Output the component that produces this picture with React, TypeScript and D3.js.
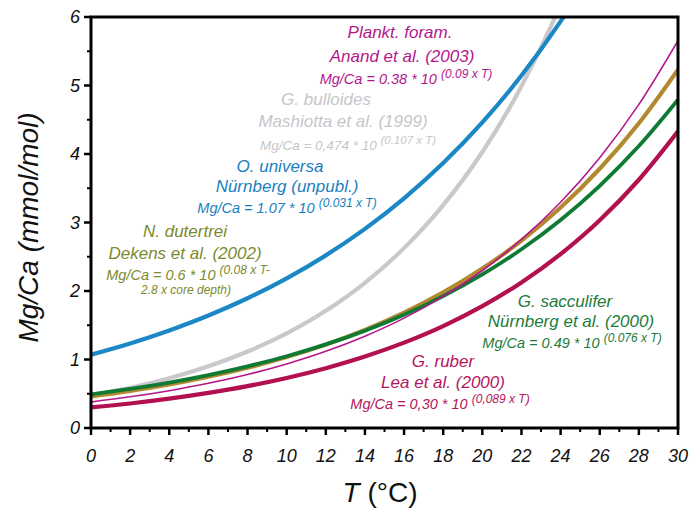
import React from "react";
import * as d3 from "d3";

const temps = [0, 2, 4, 6, 8, 10, 12, 14, 16, 18, 20, 22, 24, 26, 28, 30];

// Mg/Ca (mmol/mol) read at each temperature
const universa = [1.07, 1.234, 1.424, 1.642, 1.894, 2.185, 2.52, 2.907, 3.353, 3.867, 4.461, 5.145, 5.935, 6.846];
const bulloides = [0.474, 0.587, 0.727, 0.901, 1.116, 1.382, 1.712, 2.12, 2.626, 3.253, 4.029, 4.99, 6.181, 7.655];
const anand = [0.38, 0.455, 0.545, 0.652, 0.781, 0.935, 1.119, 1.34, 1.604, 1.921, 2.299, 2.753, 3.296, 3.946, 4.724, 5.655];
const dutertrei = [0.46, 0.541, 0.636, 0.748, 0.88, 1.035, 1.217, 1.431, 1.683, 1.979, 2.327, 2.736, 3.218, 3.784, 4.449, 5.232];
const sacculifer = [0.49, 0.57, 0.664, 0.773, 0.9, 1.048, 1.22, 1.42, 1.653, 1.925, 2.241, 2.609, 3.037, 3.536, 4.116, 4.792];
const ruber = [0.3, 0.358, 0.428, 0.512, 0.611, 0.73, 0.873, 1.043, 1.246, 1.488, 1.778, 2.125, 2.539, 3.033, 3.624, 4.33];

const xTicks = [0, 2, 4, 6, 8, 10, 12, 14, 16, 18, 20, 22, 24, 26, 28, 30];
const yTicks = [0, 1, 2, 3, 4, 5, 6];

const W = 691;
const H = 508;
const X0 = 91;
const X1 = 678;
const Y0 = 428;
const Y1 = 17;

const C = {
  blue: "#1b87c5",
  gray: "#c9c9cd",
  magenta: "#b5168a",
  gold: "#b3892f",
  green: "#0f7a33",
  crimson: "#b3104f",
  olive: "#7b8a2e",
  blueText: "#1a7fc0",
  grayText: "#c6c6ca",
  greenText: "#1d7b3c",
  crimsonText: "#b5155d",
};

const series = [
  { values: bulloides, color: C.gray, width: 4.2 },
  { values: universa, color: C.blue, width: 4.2 },
  { values: dutertrei, color: C.gold, width: 4.2 },
  { values: sacculifer, color: C.green, width: 3.8 },
  { values: anand, color: C.magenta, width: 1.6 },
  { values: ruber, color: C.crimson, width: 4.2 },
];

const FONT = "'Liberation Sans', Arial, sans-serif";

function Formula({ x, y, color, main, sup, size = 14.5, supSize = 12 }: any) {
  return (
    <text x={x} y={y} fill={color} fontSize={size} fontStyle="italic" textAnchor="middle" fontFamily={FONT}>
      {main}
      <tspan fontSize={supSize} dy={-6}>{sup}</tspan>
    </text>
  );
}

function Label({ x, y, color, text, size = 17 }: any) {
  return (
    <text x={x} y={y} fill={color} fontSize={size} fontStyle="italic" textAnchor="middle" fontFamily={FONT}>
      {text}
    </text>
  );
}

export default function App() {
  const x = d3.scaleLinear().domain([0, 30]).range([X0, X1]);
  const y = d3.scaleLinear().domain([0, 6]).range([Y0, Y1]);
  const line = (vals: number[]) =>
    d3
      .line<number>()
      .x((_, i) => x(temps[i]))
      .y((v) => y(v))
      .curve(d3.curveMonotoneX)(vals) as string;

  const minorX = d3.range(1, 30, 2);
  const minorY = d3.range(0.5, 6, 1);

  return (
    <svg
      width={W}
      height={H}
      style={{ position: "absolute", left: 0, top: 0, background: "#fff" }}
      fontFamily={FONT}
    >
      <defs>
        <clipPath id="plot">
          <rect x={X0} y={Y1} width={X1 - X0} height={Y0 - Y1} />
        </clipPath>
      </defs>

      <g clipPath="url(#plot)">
        {series.map((s, i) => (
          <path key={i} d={line(s.values)} fill="none" stroke={s.color} strokeWidth={s.width} strokeLinejoin="round" />
        ))}
      </g>

      {/* frame */}
      <rect x={X0} y={Y1} width={X1 - X0} height={Y0 - Y1} fill="none" stroke="#000" strokeWidth={3} />

      {/* y ticks */}
      {yTicks.map((t) => (
        <g key={"y" + t}>
          <line x1={X0 - 7} x2={X0} y1={y(t)} y2={y(t)} stroke="#000" strokeWidth={2.5} />
          <text x={80} y={y(t)} dy="0.36em" textAnchor="end" fontSize={18} fontStyle="italic" fill="#111">
            {t}
          </text>
        </g>
      ))}
      {minorY.map((t) => (
        <line key={"my" + t} x1={X0 - 4} x2={X0} y1={y(t)} y2={y(t)} stroke="#000" strokeWidth={2} />
      ))}

      {/* x ticks */}
      {xTicks.map((t) => (
        <g key={"x" + t}>
          <line x1={x(t)} x2={x(t)} y1={Y0} y2={Y0 + 7} stroke="#000" strokeWidth={2.5} />
          <text x={x(t)} y={462} textAnchor="middle" fontSize={18} fontStyle="italic" fill="#111">
            {t}
          </text>
        </g>
      ))}
      {minorX.map((t) => (
        <line key={"mx" + t} x1={x(t)} x2={x(t)} y1={Y0} y2={Y0 + 4} stroke="#000" strokeWidth={2} />
      ))}

      {/* axis titles */}
      <text
        transform={`translate(38, ${(Y0 + Y1) / 2 + 5}) rotate(-90)`}
        textAnchor="middle"
        fontSize={28}
        fontStyle="italic"
        fill="#111"
      >
        Mg/Ca (mmol/mol)
      </text>
      <text x={380} y={502} textAnchor="middle" fontSize={28} fill="#111">
        <tspan fontStyle="italic">T</tspan> (°C)
      </text>

      {/* annotations */}
      <Label x={400} y={38} color={C.magenta} text="Plankt. foram." />
      <Label x={402} y={62} color={C.magenta} text="Anand et al. (2003)" />
      <Formula x={406} y={84} color={C.magenta} main="Mg/Ca = 0.38 * 10 " sup="(0.09 x T)" />

      <Label x={326} y={105} color={C.grayText} text="G. bulloides" />
      <Label x={343} y={127} color={C.grayText} text="Mashiotta et al. (1999)" />
      <Formula x={348} y={150} color={C.grayText} main="Mg/Ca = 0,474 * 10 " sup="(0.107 x T)" size={13.5} supSize={11.5} />

      <Label x={280} y={172} color={C.blueText} text="O. universa" />
      <Label x={287} y={192} color={C.blueText} text="Nürnberg (unpubl.)" />
      <Formula x={287} y={213} color={C.blueText} main="Mg/Ca = 1.07 * 10 " sup="(0.031 x T)" />

      <Label x={185} y={237} color={C.olive} text="N. dutertrei" />
      <Label x={185} y={259} color={C.olive} text="Dekens et al. (2002)" />
      <Formula x={188} y={280} color={C.olive} main="Mg/Ca = 0.6 * 10 " sup="(0.08 x T-" />
      <text x={186} y={294} fill={C.olive} fontSize={12} fontStyle="italic" textAnchor="middle">
        2.8 x core depth)
      </text>

      <Label x={565} y={307} color={C.greenText} text="G. sacculifer" />
      <Label x={571} y={327} color={C.greenText} text="Nürnberg et al. (2000)" />
      <Formula x={572} y={348} color={C.greenText} main="Mg/Ca = 0.49 * 10 " sup="(0.076 x T)" />

      <Label x={443} y={367} color={C.crimsonText} text="G. ruber" />
      <Label x={443} y={388} color={C.crimsonText} text="Lea et al. (2000)" />
      <Formula x={440} y={409} color={C.crimsonText} main="Mg/Ca = 0,30 * 10 " sup="(0,089 x T)" />
    </svg>
  );
}
